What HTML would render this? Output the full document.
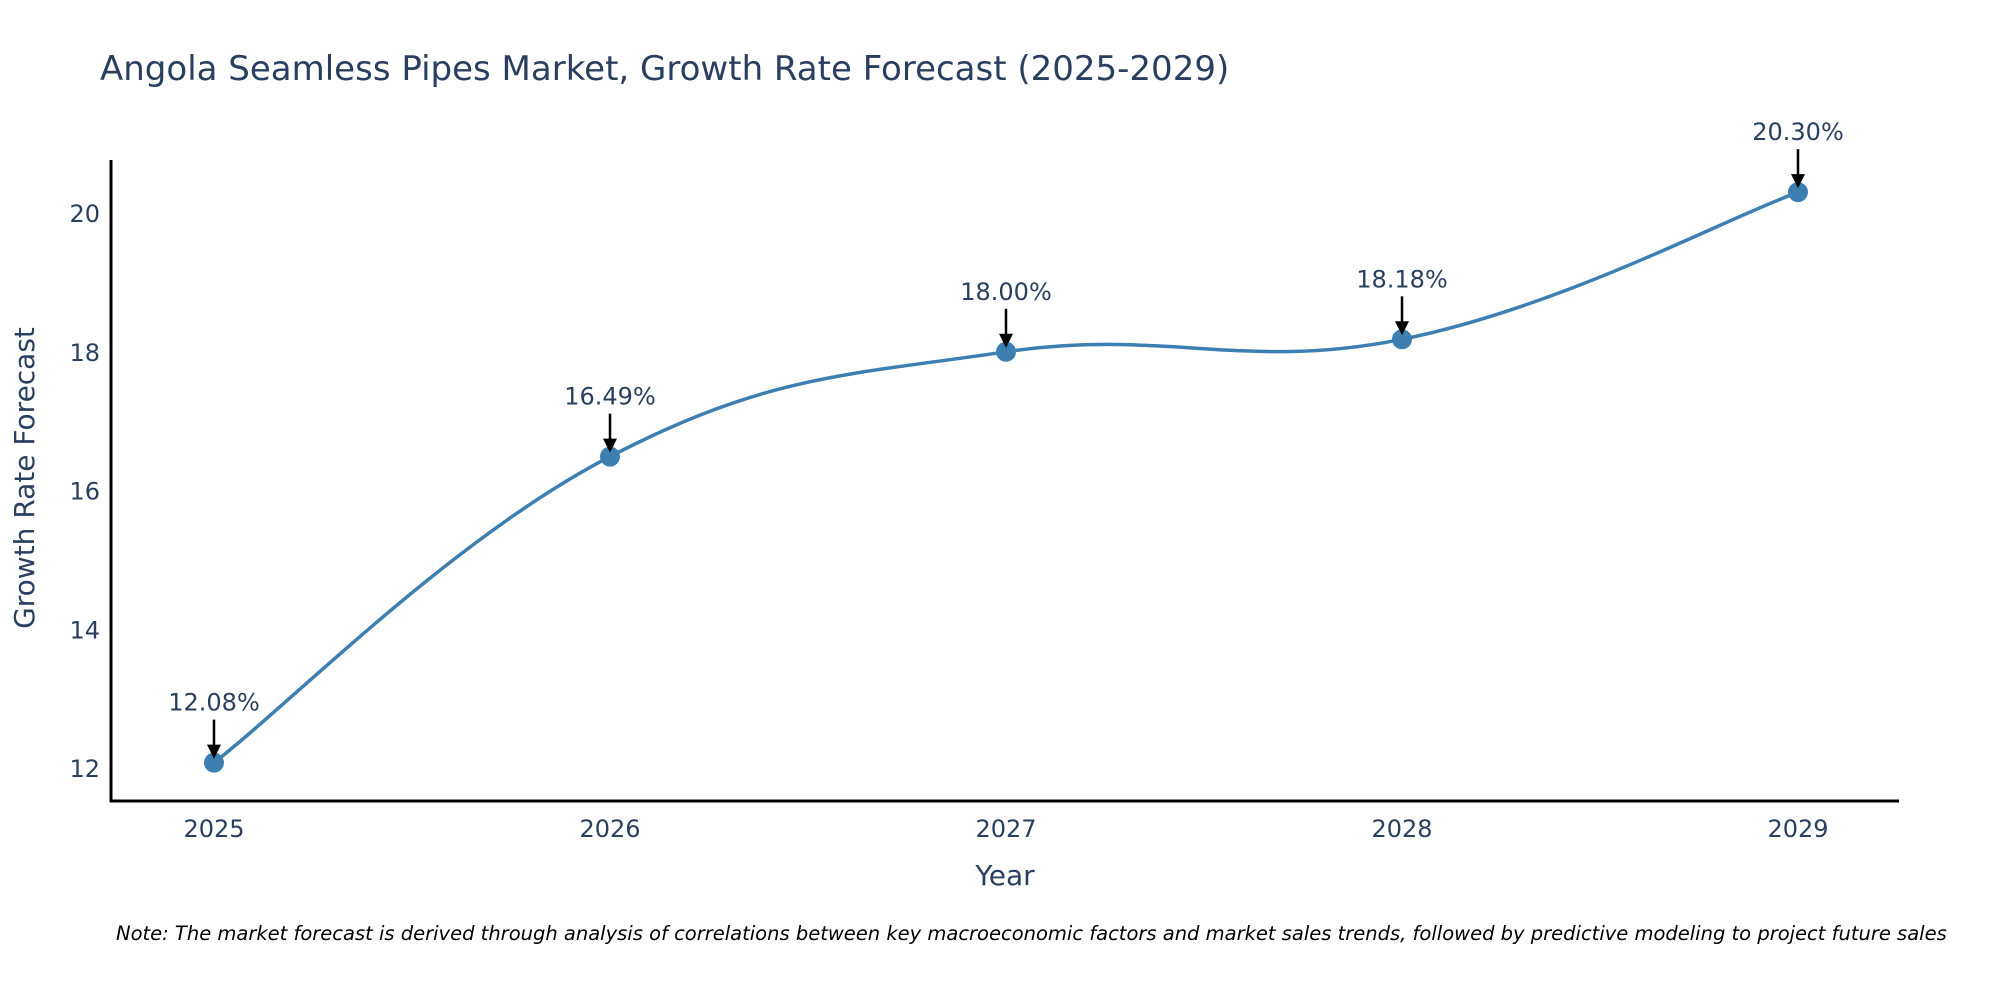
<!DOCTYPE html>
<html><head><meta charset="utf-8"><style>
body{margin:0;background:#fff;}
svg{display:block;font-family:"DejaVu Sans","Liberation Sans",sans-serif;}
</style></head><body>
<svg id="chart" width="2000" height="1000">
<text x="100" y="80" font-size="34" fill="#2a3f5f">Angola Seamless Pipes Market, Growth Rate Forecast (2025-2029)</text>
<g id="yticks"></g><g id="xticks"></g>
<line x1="111" y1="160" x2="111" y2="802" stroke="#000" stroke-width="3"/>
<line x1="110" y1="801" x2="1899" y2="801" stroke="#000" stroke-width="3"/>
<text x="0" y="0" transform="translate(34,478) rotate(-90)" text-anchor="middle" font-size="28" fill="#2a3f5f">Growth Rate Forecast</text>
<text x="1005" y="885" text-anchor="middle" font-size="28" fill="#2a3f5f">Year</text>
<path id="line" fill="none" stroke="#3d7fb0" stroke-width="3.5"/>
<g id="marks"></g>
<text x="116" y="940" font-size="19.5" font-style="italic" fill="#000">Note: The market forecast is derived through analysis of correlations between key macroeconomic factors and market sales trends, followed by predictive modeling to project future sales</text>
</svg>
<script>
const years=["2025","2026","2027","2028","2029"];
const values=[12.08,16.49,18.00,18.18,20.30];
const yTicks=[12,14,16,18,20];
const NS="http://www.w3.org/2000/svg";
const X=i=>214+i*396;
const Y=v=>213-(v-20)*69.4;
function mk(tag,attrs,parent,text){const e=document.createElementNS(NS,tag);for(const k in attrs)e.setAttribute(k,attrs[k]);if(text!==undefined)e.textContent=text;parent.appendChild(e);return e;}
const yt=document.getElementById('yticks');
yTicks.forEach(t=>{const e=mk('text',{x:100,y:Y(t)+9,'text-anchor':'end','font-size':24,fill:'#2a3f5f'},yt,String(t));

});
const xt=document.getElementById('xticks');
years.forEach((y,i)=>{const e=mk('text',{x:X(i),y:837,'text-anchor':'middle','font-size':24,fill:'#2a3f5f'},xt,y);

});
const pts=values.map((v,i)=>[X(i),Y(v)]);
let d=`M${pts[0][0]},${pts[0][1]}`;
const s=0.2;
for(let i=0;i<pts.length-1;i++){const p0=pts[Math.max(i-1,0)],p1=pts[i],p2=pts[i+1],p3=pts[Math.min(i+2,pts.length-1)];
const c1=[p1[0]+(p2[0]-p0[0])*s,p1[1]+(p2[1]-p0[1])*s],c2=[p2[0]-(p3[0]-p1[0])*s,p2[1]-(p3[1]-p1[1])*s];
d+=` C${c1[0]},${c1[1]} ${c2[0]},${c2[1]} ${p2[0]},${p2[1]}`;}
document.getElementById('line').setAttribute('d',d);
const mg=document.getElementById('marks');
values.forEach((v,i)=>{const cx=X(i),cy=Y(v);
const c=mk('circle',{cx:cx,cy:cy,r:10,fill:'#3d7fb0'},mg);


const l=mk('line',{x1:cx,y1:cy-43,x2:cx,y2:cy-14,stroke:'#000','stroke-width':2.5},mg);


const h=mk('polygon',{points:`${cx-7},${cy-18} ${cx+7},${cy-18} ${cx},${cy-4}`,fill:'#000'},mg);


const t=mk('text',{x:cx,y:cy-52,'text-anchor':'middle','font-size':24,fill:'#2a3f5f'},mg,v.toFixed(2)+'%');

});
</script>
</body></html>
